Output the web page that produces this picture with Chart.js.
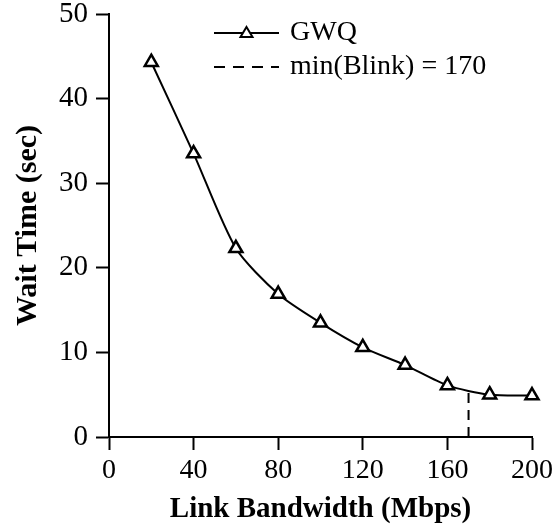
<!DOCTYPE html>
<html>
<head>
<meta charset="utf-8">
<script src="https://cdn.jsdelivr.net/npm/chart.js@4.4.1/dist/chart.umd.min.js"></script>
<style>
  html, body { margin: 0; padding: 0; background: #fff; }
  #wrap { width: 558px; height: 527px; }
</style>
</head>
<body>
<div id="wrap"><canvas id="waitChart" width="558" height="527"></canvas></div>
<script>
(function () {
    "use strict";

    // link bandwidth (Mbps) and measured wait time (sec)
    const bandwidth = [20, 40, 60, 80, 100, 120, 140, 160, 180, 200];
    const waitTime = [44.3, 33.5, 22.3, 16.9, 13.5, 10.6, 8.5, 6.1, 5.0, 4.9];
    const xTicks = [0, 40, 80, 120, 160, 200];
    const yTicks = [0, 10, 20, 30, 40, 50];
    const minBlink = 170;
    const minBlinkWait = [0, 5.6];
    const seriesNames = ["GWQ", "min(Blink) = 170"];

    const serif = "'Liberation Serif', 'Times New Roman', serif";

    // legend drawn by hand, top of plot
    const legendPlugin = {
        id: "handLegend",
        afterDraw(chart) {
            const c = chart.ctx;
            c.save();
            c.strokeStyle = "#000";
            c.fillStyle = "#000";
            c.lineWidth = 2;
            c.font = "28px " + serif;
            c.textBaseline = "middle";
            // row 1: solid line + triangle
            c.beginPath();
            c.moveTo(214, 33);
            c.lineTo(279, 33);
            c.stroke();
            c.beginPath();
            c.moveTo(246.5, 27);
            c.lineTo(252.5, 37);
            c.lineTo(240.5, 37);
            c.closePath();
            c.fillStyle = "#fff";
            c.fill();
            c.stroke();
            c.fillStyle = "#000";
            c.fillText(seriesNames[0], 290, 33);
            // row 2: dashed line
            c.setLineDash([11, 8]);
            c.beginPath();
            c.moveTo(214, 67);
            c.lineTo(279, 67);
            c.stroke();
            c.setLineDash([]);
            c.fillText(seriesNames[1], 290, 67);
            c.restore();
        }
    };

    const ctx = document.getElementById("waitChart").getContext("2d");
    new Chart(ctx, {
        type: "line",
        data: {
            datasets: [
                {
                    label: seriesNames[0],
                    data: bandwidth.map((b, i) => ({ x: b, y: waitTime[i] })),
                    borderColor: "#000",
                    borderWidth: 2,
                    tension: 0.25,
                    clip: false,
                    pointStyle: "triangle",
                    pointRadius: 7.5,
                    pointBorderWidth: 2.5,
                    pointBackgroundColor: "#fff",
                    pointBorderColor: "#000",
                },
                {
                    label: seriesNames[1],
                    data: minBlinkWait.map((v) => ({ x: minBlink, y: v })),
                    borderColor: "#000",
                    borderWidth: 2,
                    borderDash: [10, 7],
                    pointRadius: 0,
                },
            ],
        },
        options: {
            responsive: false,
            animation: false,
            layout: { padding: { top: 14, right: 26, left: 10, bottom: 0 } },
            plugins: {
                legend: { display: false },
                tooltip: { enabled: false },
            },
            scales: {
                x: {
                    type: "linear",
                    min: 0,
                    max: 200,
                    afterBuildTicks: (s) => { s.ticks = xTicks.map((v) => ({ value: v })); },
                    afterFit: (s) => { s.height = 90; },
                    border: { color: "#000", width: 2 },
                    grid: { drawOnChartArea: false, tickLength: 13, tickColor: "#000", tickWidth: 2 },
                    ticks: { color: "#000", padding: 4, font: { family: serif, size: 28 } },
                    title: {
                        display: true,
                        text: "Link Bandwidth (Mbps)",
                        color: "#000",
                        padding: { top: 2, bottom: 0 },
                        font: { family: serif, size: 29, weight: "bold" },
                    },
                },
                y: {
                    min: 0,
                    max: 50,
                    afterBuildTicks: (s) => { s.ticks = yTicks.map((v) => ({ value: v })); },
                    afterFit: (s) => {
                        s.width = 99;
                        s.paddingTop = 0;
                        s.paddingBottom = 0;
                    },
                    border: { color: "#000", width: 2 },
                    grid: { drawOnChartArea: false, tickLength: 13, tickColor: "#000", tickWidth: 2 },
                    ticks: { color: "#000", padding: 8, font: { family: serif, size: 29 } },
                    title: {
                        display: true,
                        text: "Wait Time (sec)",
                        color: "#000",
                        padding: { top: 0, bottom: 4 },
                        font: { family: serif, size: 30, weight: "bold" },
                    },
                },
            },
        },
        plugins: [legendPlugin],
    });
})();
</script>
</body>
</html>
